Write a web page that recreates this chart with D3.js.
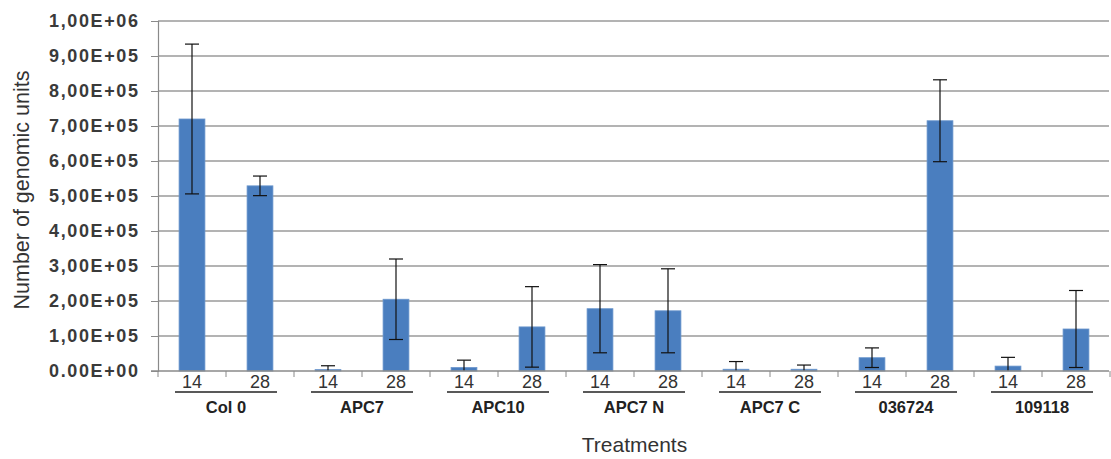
<!DOCTYPE html>
<html>
<head>
<meta charset="utf-8">
<script src="https://cdn.jsdelivr.net/npm/d3@7"></script>
<style>
  body { margin: 0; background: #fff; }
  text { font-family: "Liberation Sans", Arial, sans-serif; }
</style>
</head>
<body>
<script>
let width = 1111;
let height = 459;

let groups = ['Col 0', 'APC7', 'APC10', 'APC7 N', 'APC7 C', '036724', '109118'];
let days = ['14', '28'];
let values = [7.2e5, 5.29e5, 4e3, 2.05e5, 1e4, 1.26e5, 1.78e5, 1.72e5, 5e3, 5e3, 3.8e4, 7.15e5, 1.4e4, 1.2e5];
let errors = [2.14e5, 0.28e5, 1.1e4, 1.15e5, 2.1e4, 1.15e5, 1.26e5, 1.2e5, 2.2e4, 1.2e4, 2.8e4, 1.17e5, 2.5e4, 1.1e5];
let yTicks = d3.range(0, 1000001, 100000);
let yTickLabels = ['0.00E+00', '1,00E+05', '2,00E+05', '3,00E+05', '4,00E+05', '5,00E+05',
                   '6,00E+05', '7,00E+05', '8,00E+05', '9,00E+05', '1,00E+06'];

let margin = { left: 158, right: 1, top: 21, bottom: 88 };

let bars = [];
groups.forEach(function(g, i) {
    days.forEach(function(d, j) {
        let k = i * 2 + j;
        bars.push({ id: k, group: g, day: d, value: values[k], err: errors[k] });
    });
});

let svg = d3.select('body').append('svg')
            .attr('width', width)
            .attr('height', height);

let xScale = d3.scaleBand()
                .domain(d3.range(bars.length))
                .range([margin.left, width - margin.right])
                .paddingInner(0.62)
                .paddingOuter(0.31);

let step = xScale.step();

let yScale = d3.scaleLinear()
                .domain([0, 1000000])
                .range([height - margin.bottom, margin.top]);

// gridlines
svg.append('g')
    .selectAll('line')
    .data(yTicks.slice(1))
    .enter()
    .append('line')
    .attr('x1', margin.left)
    .attr('x2', width - 2)
    .attr('y1', function(d) { return yScale(d); })
    .attr('y2', function(d) { return yScale(d); })
    .attr('stroke', '#9a9a9a')
    .attr('stroke-width', 1.5);

// y axis
let yAxis = d3.axisLeft(yScale)
                .tickValues(yTicks)
                .tickSize(7)
                .tickPadding(13)
                .tickFormat(function(d, i) { return yTickLabels[i]; });

let yG = svg.append('g')
            .attr('transform', 'translate(' + margin.left + ',0)')
            .call(yAxis);
yG.select('.domain').attr('stroke', '#8a8a8a').attr('stroke-width', 1.2);
yG.selectAll('.tick line').attr('stroke', '#8a8a8a');
yG.selectAll('.tick text')
    .attr('fill', '#3a3a3a')
    .attr('font-size', 18)
    .attr('font-weight', 'bold')
    .attr('font-family', '"Liberation Sans", Arial, sans-serif')
    .attr('textLength', 89)
    .attr('lengthAdjust', 'spacing');

// bars
svg.append('g')
    .selectAll('rect')
    .data(bars)
    .enter()
    .append('rect')
    .attr('x', function(d) { return xScale(d.id); })
    .attr('width', xScale.bandwidth())
    .attr('y', function(d) { return yScale(d.value); })
    .attr('height', function(d) { return yScale(0) - yScale(d.value); })
    .attr('fill', '#4a7ebf')
    .attr('stroke', '#6b96cc')
    .attr('stroke-width', 0.8);

// error bars
let eb = svg.append('g')
            .attr('stroke', '#111')
            .attr('stroke-width', 1.2)
            .selectAll('g')
            .data(bars)
            .enter()
            .append('g');

eb.append('line')
    .attr('x1', function(d) { return xScale(d.id) + xScale.bandwidth() / 2; })
    .attr('x2', function(d) { return xScale(d.id) + xScale.bandwidth() / 2; })
    .attr('y1', function(d) { return yScale(d.value + d.err); })
    .attr('y2', function(d) { return yScale(Math.max(0, d.value - d.err)); });

eb.append('line')
    .attr('x1', function(d) { return xScale(d.id) + xScale.bandwidth() / 2 - 7; })
    .attr('x2', function(d) { return xScale(d.id) + xScale.bandwidth() / 2 + 7; })
    .attr('y1', function(d) { return yScale(d.value + d.err); })
    .attr('y2', function(d) { return yScale(d.value + d.err); });

eb.filter(function(d) { return d.value - d.err > 0; })
    .append('line')
    .attr('x1', function(d) { return xScale(d.id) + xScale.bandwidth() / 2 - 7; })
    .attr('x2', function(d) { return xScale(d.id) + xScale.bandwidth() / 2 + 7; })
    .attr('y1', function(d) { return yScale(d.value - d.err); })
    .attr('y2', function(d) { return yScale(d.value - d.err); });

// x axis line and minor ticks
let y0 = yScale(0);
svg.append('line')
    .attr('x1', margin.left - 7)
    .attr('x2', width - 2)
    .attr('y1', y0)
    .attr('y2', y0)
    .attr('stroke', '#8a8a8a')
    .attr('stroke-width', 1.5);

svg.append('g')
    .selectAll('line')
    .data(d3.range(bars.length + 1))
    .enter()
    .append('line')
    .attr('x1', function(i) { return margin.left + i * step; })
    .attr('x2', function(i) { return margin.left + i * step; })
    .attr('y1', y0)
    .attr('y2', y0 + 6)
    .attr('stroke', '#8a8a8a');

// day labels
svg.append('g')
    .selectAll('text')
    .data(bars)
    .enter()
    .append('text')
    .attr('x', function(d) { return xScale(d.id) + xScale.bandwidth() / 2; })
    .attr('y', y0 + 17)
    .attr('text-anchor', 'middle')
    .attr('font-size', 18)
    .attr('fill', '#333')
    .text(function(d) { return d.day; });

// group underlines and labels
let gW = step * 2;
let gG = svg.append('g')
            .selectAll('g')
            .data(groups)
            .enter()
            .append('g')
            .attr('transform', function(d, i) { return 'translate(' + (margin.left + i * gW) + ',0)'; });

gG.append('line')
    .attr('x1', step * 0.25)
    .attr('x2', step * 1.75)
    .attr('y1', y0 + 21)
    .attr('y2', y0 + 21)
    .attr('stroke', '#222')
    .attr('stroke-width', 1.3);

gG.append('text')
    .attr('x', step)
    .attr('y', y0 + 42)
    .attr('text-anchor', 'middle')
    .attr('font-size', 16.5)
    .attr('font-weight', 'bold')
    .attr('fill', '#222')
    .text(function(d) { return d; });

// axis titles
svg.append('text')
    .attr('x', (margin.left + width) / 2)
    .attr('y', 452)
    .attr('text-anchor', 'middle')
    .attr('font-size', 21)
    .attr('fill', '#333')
    .text('Treatments');

svg.append('text')
    .attr('transform', 'translate(29,190) rotate(-90)')
    .attr('text-anchor', 'middle')
    .attr('font-size', 21.5)
    .attr('fill', '#333')
    .text('Number of genomic units');
</script>
</body>
</html>
